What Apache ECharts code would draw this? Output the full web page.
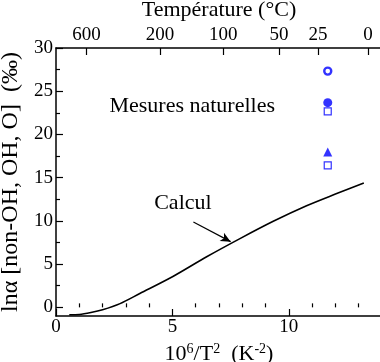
<!DOCTYPE html>
<html>
<head>
<meta charset="utf-8">
<script src="https://cdn.jsdelivr.net/npm/echarts@6/dist/echarts.min.js"></script>
<style>
html,body{margin:0;padding:0;background:#fff;}
#c{width:380px;height:362px;}
</style>
</head>
<body>
<div id="c"></div>
<script>
// ---- data ----
var calculX = [0.57, 1.0, 1.5, 2.0, 2.75, 3.6, 5.04, 6.47, 7.9, 9.33, 10.76, 12.0, 13.22];
var calculY = [-0.85, -0.82, -0.6, -0.28, 0.43, 1.6, 3.6, 5.85, 7.95, 9.95, 11.75, 13.1, 14.38];
var markerX = 11.67;
var openCircleY = [27.33];
var filledCircleY = [23.68];
var openSquareY = [22.67, 16.43];
var triangleY = [17.96];
var bottomTickLabels = [0, 5, 10];
var bottomMinorTicks = [1, 2, 3, 4, 6, 7, 8, 9, 11, 12, 13];
var leftTickLabels = [0, 5, 10, 15, 20, 25, 30];
var leftMinorTicks = [2.5, 7.5, 12.5, 17.5, 22.5, 27.5];
var topTemperaturesC = [600, 200, 100, 50, 25, 0];
var arrowFrom = [5.9, 9.87];
var arrowTo = [7.5, 7.6];
var calculLabel = {text: 'Calcul', x: 5.45, y: 12.0};
var mesuresLabel = {text: 'Mesures naturelles', x: 5.85, y: 23.3};
var titleTop = 'Température (°C)';
var titleY = 'lnα [non-OH, OH, O]  (‰)';

// ---- derived ----
function tempToX(t){ var k = t + 273.15; return 1e6 / (k * k); }
var topTickPositions = topTemperaturesC.map(tempToX);
function xy(xs, ys){ return xs.map(function(x, i){ return [x, ys[i]]; }); }
function atX(ys){ return ys.map(function(y){ return [markerX, y]; }); }

var FONT = 'Liberation Serif';
var BLUE = '#0000ff';

var chart = echarts.init(document.getElementById('c'), null, {renderer: 'canvas'});
chart.setOption({
  animation: false,
  backgroundColor: '#fff',
  grid: {left: 56, top: 48, width: 326, height: 268, containLabel: false, outerBoundsMode: 'none'},
  xAxis: [
    {
      type: 'value', position: 'bottom', min: 0, max: 14,
      axisLine: {show: true, onZero: false, lineStyle: {color: '#000', width: 1.5}},
      axisTick: {show: true, inside: true, length: 7, customValues: bottomTickLabels, lineStyle: {color: '#000', width: 1.2}},
      axisLabel: {show: true, customValues: bottomTickLabels, margin: 2, color: '#000', fontFamily: FONT, fontSize: 19},
      splitLine: {show: false},
      name: '{n|10}{s|6}{n|/T}{s|2}{n|  (K}{s|-2}{n|)}', nameLocation: 'middle', nameGap: 24,
      nameTextStyle: {color: '#000', fontFamily: FONT, fontSize: 22, verticalAlign: 'top',
        rich: {
          n: {fontFamily: FONT, fontSize: 22, verticalAlign: 'bottom', color: '#000'},
          s: {fontFamily: FONT, fontSize: 14, verticalAlign: 'bottom', padding: [0, 0, 9, 0], color: '#000'}
        }}
    },
    {
      type: 'value', position: 'top', min: 0, max: 14,
      axisLine: {show: true, onZero: false, lineStyle: {color: '#000', width: 1.5}},
      axisTick: {show: true, inside: true, length: 7, customValues: topTickPositions, lineStyle: {color: '#000', width: 1.2}},
      axisLabel: {show: true, customValues: topTickPositions, margin: 3, color: '#000', fontFamily: FONT, fontSize: 19,
        formatter: function(v){ return String(Math.round(1000 / Math.sqrt(v) - 273.15)); }},
      splitLine: {show: false},
      name: titleTop, nameLocation: 'middle', nameGap: 20,
      nameTextStyle: {color: '#000', fontFamily: FONT, fontSize: 22}
    },
    {
      type: 'value', position: 'bottom', min: 0, max: 14,
      axisLine: {show: false},
      axisTick: {show: true, inside: true, length: 4, customValues: bottomMinorTicks, lineStyle: {color: '#000', width: 1.2}},
      axisLabel: {show: false},
      splitLine: {show: false}
    }
  ],
  yAxis: [
    {
      type: 'value', position: 'left', min: -1, max: 30,
      axisLine: {show: true, onZero: false, lineStyle: {color: '#000', width: 1.5}},
      axisTick: {show: true, inside: true, length: 7, customValues: leftTickLabels, lineStyle: {color: '#000', width: 1.2}},
      axisLabel: {show: true, customValues: leftTickLabels, margin: 3, color: '#000', fontFamily: FONT, fontSize: 19},
      splitLine: {show: false},
      name: titleY, nameLocation: 'middle', nameGap: 33,
      nameTextStyle: {color: '#000', fontFamily: FONT, fontSize: 24}
    },
    {
      type: 'value', position: 'left', min: -1, max: 30,
      axisLine: {show: false},
      axisTick: {show: true, inside: true, length: 4, customValues: leftMinorTicks, lineStyle: {color: '#000', width: 1.2}},
      axisLabel: {show: false},
      splitLine: {show: false}
    }
  ],
  series: [
    {
      type: 'line', xAxisIndex: 0, yAxisIndex: 0,
      data: xy(calculX, calculY), smooth: 0.3, showSymbol: false, symbol: 'none',
      lineStyle: {color: '#000', width: 1.6},
      markLine: {
        silent: true, symbol: ['none', 'arrow'], symbolSize: [7, 10],
        lineStyle: {color: '#000', width: 1.2, type: 'solid'},
        label: {show: false},
        data: [[{coord: arrowFrom}, {coord: arrowTo}]]
      },
      markPoint: {
        silent: true, symbol: 'circle', symbolSize: 0,
        label: {show: true, position: 'inside', color: '#000', fontFamily: FONT, fontSize: 22, formatter: function(p){ return p.name; }},
        data: [
          {name: calculLabel.text, coord: [calculLabel.x, calculLabel.y]},
          {name: mesuresLabel.text, coord: [mesuresLabel.x, mesuresLabel.y]}
        ]
      }
    },
    {
      type: 'scatter', data: atX(openCircleY), symbol: 'circle', symbolSize: 7,
      itemStyle: {color: '#fff', borderColor: BLUE, borderWidth: 2.4}
    },
    {
      type: 'scatter', data: atX(filledCircleY), symbol: 'circle', symbolSize: 9,
      itemStyle: {color: BLUE}
    },
    {
      type: 'scatter', data: atX(openSquareY), symbol: 'rect', symbolSize: 7,
      itemStyle: {color: '#fff', borderColor: BLUE, borderWidth: 1.2}
    },
    {
      type: 'scatter', data: atX(triangleY), symbol: 'triangle', symbolSize: 9,
      itemStyle: {color: BLUE}
    }
  ]
});
</script>
</body>
</html>
